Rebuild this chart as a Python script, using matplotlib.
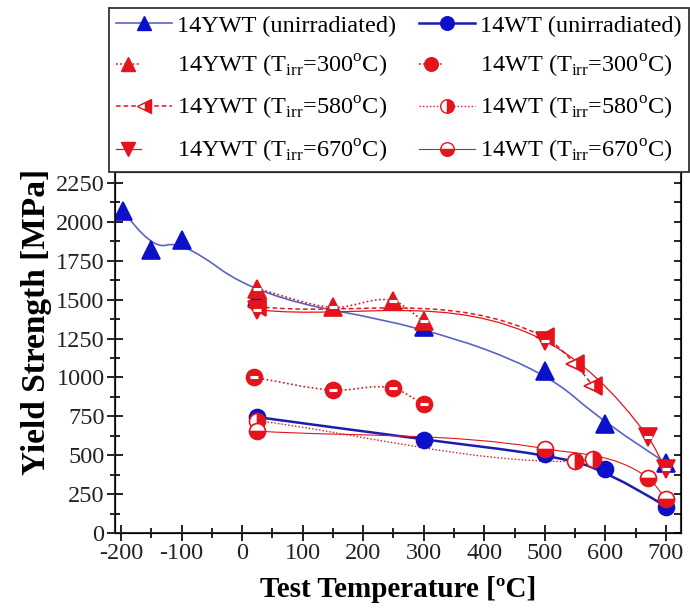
import matplotlib
matplotlib.use("Agg")
import matplotlib.pyplot as plt
from matplotlib.path import Path
from matplotlib.patches import PathPatch
from matplotlib.lines import Line2D
from matplotlib.legend_handler import HandlerTuple

plt.rcParams["font.family"] = "Liberation Serif"
plt.rcParams["mathtext.fontset"] = "custom"
plt.rcParams["mathtext.rm"] = "Liberation Serif"
plt.rcParams["axes.unicode_minus"] = False

# yield strength [MPa] vs test temperature [C]
ywt_un_t = [-196, -150, -100, 25, 300, 500, 600, 700]
ywt_un_ys = [2070, 1820, 1880, 1520, 1325, 1040, 700, 452]
ywt300_t = [25, 150, 250, 300]
ywt300_ys = [1570, 1450, 1492, 1362]
ywt580_t = [25, 500, 550, 580]
ywt580_ys = [1455, 1258, 1086, 944]
ywt670_t = [25, 500, 670, 700]
ywt670_ys = [1435, 1235, 620, 410]

wt_un_t = [25, 300, 500, 600, 700]
wt_un_ys = [745, 600, 505, 410, 170]
wt300_t = [20, 150, 250, 300]
wt300_ys = [1000, 918, 930, 827]
wt580_t = [25, 550, 580]
wt580_ys = [722, 460, 478]
wt670_t = [25, 500, 670, 700]
wt670_ys = [655, 542, 356, 220]

RED = "#e3141c"
BLUE = "#0c10c8"


def hermite_path(xs, ys):
    # cubic Hermite segments written as Bezier curves
    n = len(xs)
    sec = [(ys[i + 1] - ys[i]) / (xs[i + 1] - xs[i]) for i in range(n - 1)]
    m = [sec[0]] + [(sec[i - 1] + sec[i]) / 2 for i in range(1, n - 1)] + [sec[-1]]
    verts = [(xs[0], ys[0])]
    codes = [Path.MOVETO]
    for i in range(n - 1):
        h = xs[i + 1] - xs[i]
        verts += [(xs[i] + h / 3, ys[i] + m[i] * h / 3),
                  (xs[i + 1] - h / 3, ys[i + 1] - m[i + 1] * h / 3),
                  (xs[i + 1], ys[i + 1])]
        codes += [Path.CURVE4] * 3
    return Path(verts, codes)


def bspline_path(xs, ys):
    # quadratic B-spline, data points as control polygon
    pts = list(zip(xs, ys))
    verts = [pts[0]]
    codes = [Path.MOVETO]
    for i in range(1, len(pts) - 1):
        if i < len(pts) - 2:
            end = ((pts[i][0] + pts[i + 1][0]) / 2, (pts[i][1] + pts[i + 1][1]) / 2)
        else:
            end = pts[i + 1]
        verts += [pts[i], end]
        codes += [Path.CURVE3, Path.CURVE3]
    return Path(verts, codes)


fig = plt.figure(figsize=(6.9, 6.1), dpi=100)
ax = fig.add_axes([0.1667, 0.1262, 0.8203, 0.5918])

series = [
    # x, y, marker, color, fillstyle, band, linestyle, lw, linecolor, curve
    (ywt_un_t, ywt_un_ys, "^", BLUE, "full", False, "-", 1.2, "#5a64c4", bspline_path),
    (wt_un_t, wt_un_ys, "o", BLUE, "full", False, "-", 1.8, "#1c1cb0", bspline_path),
    (ywt300_t, ywt300_ys, "^", RED, "full", True, (0, (1, 1.5)), 1.2, RED, hermite_path),
    (ywt580_t, ywt580_ys, "<", RED, "right", False, (0, (3, 2)), 1.1, RED, hermite_path),
    (ywt670_t, ywt670_ys, "v", RED, "full", True, "-", 0.9, RED, hermite_path),
    (wt300_t, wt300_ys, "o", RED, "full", True, (0, (1, 1.5)), 1.2, RED, hermite_path),
    (wt580_t, wt580_ys, "o", RED, "right", False, (0, (1, 1.5)), 1.0, RED, hermite_path),
    (wt670_t, wt670_ys, "o", RED, "bottom", False, "-", 0.8, RED, hermite_path),
]

handles = {}
for i, (xs, ys, mk, col, fs, band, ls, lw, lc, curve) in enumerate(series):
    ax.add_patch(PathPatch(curve(xs, ys), fill=False, edgecolor=lc,
                           linewidth=lw, linestyle=ls, zorder=2))
    ms = 12.5 if mk in "^v<" else 11.5
    ax.plot(xs, ys, linestyle="none", marker=mk, ms=ms, color=col,
            fillstyle=fs, markerfacecoloralt="white", markeredgecolor=col,
            markeredgewidth=1.2, zorder=3 + i * 0.1)
    proxy = Line2D([], [], color=lc, linestyle=ls, linewidth=lw, marker=mk,
                   ms=ms * 0.85, markerfacecolor=col, fillstyle=fs,
                   markerfacecoloralt="white", markeredgecolor=col)
    if band:
        ax.plot(xs, ys, linestyle="none", marker="_", ms=ms * 0.5, mew=2.2,
                color="white", zorder=3.05 + i * 0.1)
        bar = Line2D([], [], linestyle="none", marker="_", ms=ms * 0.42,
                     mew=2, color="white")
        handles[i] = (proxy, bar)
    else:
        handles[i] = proxy

ax.set_xlim(-210, 725)
ax.set_ylim(0, 2320)
ax.set_xticks(range(-200, 701, 100))
ax.set_xticks(range(-150, 701, 100), minor=True)
ax.set_yticks(range(0, 2251, 250))
ax.set_yticks(range(125, 2251, 250), minor=True)
ax.tick_params(which="both", direction="inout", width=1.4, labelsize=17.5,
               pad=2, colors="#222222")
ax.tick_params(which="major", length=11)
ax.tick_params(which="minor", length=7)
for sp in ax.spines.values():
    sp.set_linewidth(1.5)
    sp.set_color("#333333")

ax2 = ax.twinx()
ax2.set_ylim(ax.get_ylim())
ax2.set_yticks(range(0, 2251, 125))
ax2.tick_params(direction="in", length=5, width=1.2, labelright=False)

ax.set_xlabel("Test Temperature [ºC]", fontsize=21, fontweight="bold", labelpad=8)
ax.set_ylabel("Yield Strength [MPa]", fontsize=24, fontweight="bold")
ax.yaxis.set_label_coords(-0.112, 0.585)

labels = [
    "14YWT (unirradiated)",
    r"14YWT (T$_{\mathrm{irr}}$=300$^{\mathrm{o}}$C)",
    r"14YWT (T$_{\mathrm{irr}}$=580$^{\mathrm{o}}$C)",
    r"14YWT (T$_{\mathrm{irr}}$=670$^{\mathrm{o}}$C)",
    "14WT (unirradiated)",
    r"14WT (T$_{\mathrm{irr}}$=300$^{\mathrm{o}}$C)",
    r"14WT (T$_{\mathrm{irr}}$=580$^{\mathrm{o}}$C)",
    r"14WT (T$_{\mathrm{irr}}$=670$^{\mathrm{o}}$C)",
]
order = [0, 2, 3, 4, 1, 5, 6, 7]
leg = fig.legend([handles[k] for k in order], labels, ncol=2,
                 loc="lower left", bbox_to_anchor=(0.158, 0.718, 0.84, 0.277),
                 mode="expand", fontsize=17.5, handlelength=2.3,
                 handletextpad=0.2, columnspacing=0.2, labelspacing=0.64,
                 borderpad=0.3, borderaxespad=0, fancybox=False,
                 edgecolor="#333333", framealpha=1,
                 handler_map={tuple: HandlerTuple(ndivide=None)})
leg.get_frame().set_linewidth(1.3)

fig.savefig("out.png", dpi=100)
